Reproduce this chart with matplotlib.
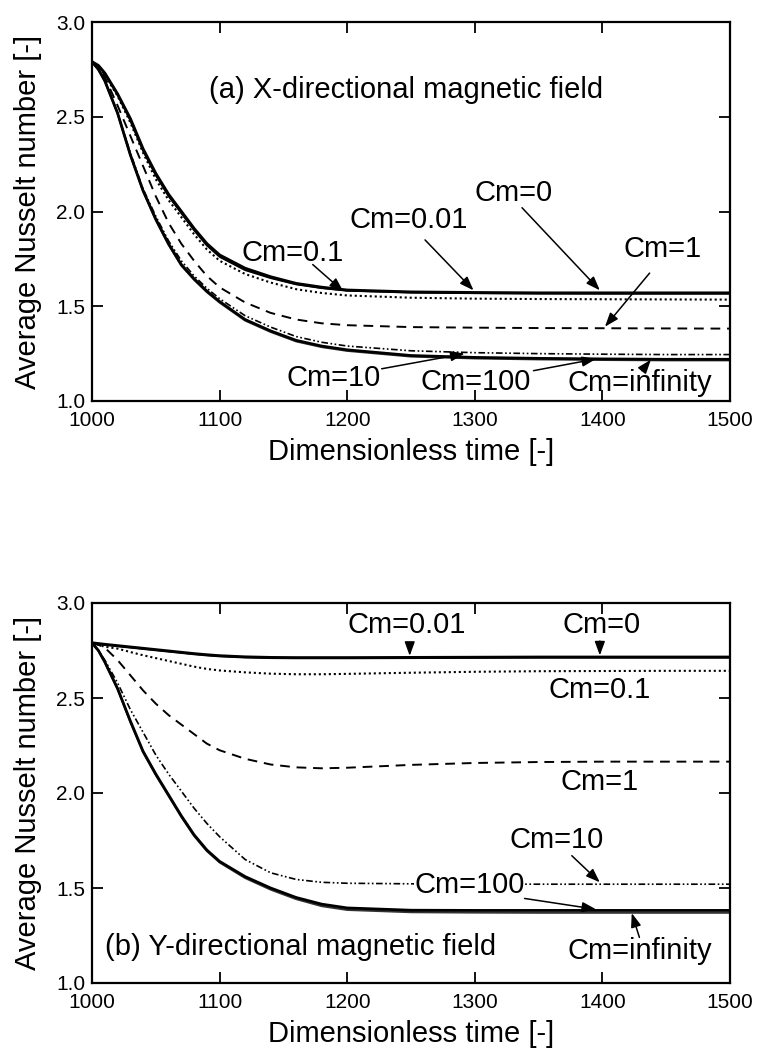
import matplotlib
matplotlib.use("Agg")
import matplotlib.pyplot as plt
from matplotlib import font_manager

# ---------------- data ----------------
t = [1000, 1005, 1010, 1020, 1030, 1040, 1050, 1060, 1070, 1080, 1090, 1100,
     1120, 1140, 1160, 1180, 1200, 1250, 1300, 1350, 1400, 1450, 1500]

# (a) X-directional magnetic field
a_cm0 = [2.79, 2.77, 2.73, 2.62, 2.49, 2.33, 2.20, 2.09, 2.00, 1.91, 1.83, 1.77,
         1.70, 1.655, 1.62, 1.60, 1.585, 1.575, 1.572, 1.570, 1.570, 1.570, 1.570]
a_cm001 = [2.79, 2.77, 2.73, 2.62, 2.48, 2.32, 2.19, 2.08, 1.99, 1.90, 1.82, 1.76,
           1.69, 1.648, 1.615, 1.595, 1.582, 1.572, 1.569, 1.567, 1.566, 1.566, 1.566]
a_cm01 = [2.79, 2.77, 2.72, 2.61, 2.47, 2.31, 2.17, 2.06, 1.97, 1.88, 1.80, 1.74,
          1.67, 1.625, 1.59, 1.57, 1.557, 1.545, 1.540, 1.538, 1.537, 1.536, 1.535]
a_cm1 = [2.79, 2.76, 2.71, 2.56, 2.40, 2.24, 2.08, 1.94, 1.83, 1.74, 1.66, 1.60,
         1.52, 1.465, 1.43, 1.41, 1.40, 1.39, 1.387, 1.385, 1.384, 1.383, 1.382]
a_cm10 = [2.79, 2.75, 2.69, 2.52, 2.31, 2.12, 1.975, 1.845, 1.74, 1.66, 1.595, 1.54,
          1.45, 1.39, 1.34, 1.31, 1.29, 1.265, 1.255, 1.25, 1.247, 1.245, 1.245]
a_cm100 = [2.79, 2.75, 2.69, 2.52, 2.30, 2.11, 1.96, 1.83, 1.72, 1.645, 1.58, 1.525,
           1.43, 1.37, 1.32, 1.29, 1.27, 1.24, 1.23, 1.225, 1.222, 1.22, 1.22]
a_cminf = [2.79, 2.75, 2.69, 2.52, 2.30, 2.11, 1.955, 1.825, 1.715, 1.64, 1.575, 1.52,
           1.425, 1.365, 1.315, 1.285, 1.265, 1.235, 1.225, 1.22, 1.217, 1.215, 1.215]

# (b) Y-directional magnetic field
b_cm0 = [2.79, 2.786, 2.782, 2.775, 2.768, 2.761, 2.754, 2.747, 2.740, 2.733, 2.727, 2.722,
         2.716, 2.713, 2.712, 2.712, 2.712, 2.713, 2.714, 2.715, 2.715, 2.715, 2.715]
b_cm001 = [2.79, 2.786, 2.781, 2.773, 2.766, 2.759, 2.752, 2.745, 2.738, 2.731, 2.725, 2.720,
           2.714, 2.711, 2.710, 2.710, 2.710, 2.711, 2.712, 2.713, 2.713, 2.713, 2.713]
b_cm01 = [2.79, 2.78, 2.77, 2.76, 2.742, 2.725, 2.71, 2.695, 2.68, 2.665, 2.653, 2.645,
          2.635, 2.628, 2.625, 2.625, 2.627, 2.633, 2.638, 2.641, 2.642, 2.643, 2.643]
b_cm1 = [2.79, 2.78, 2.765, 2.70, 2.62, 2.54, 2.47, 2.41, 2.36, 2.31, 2.26, 2.225,
         2.18, 2.15, 2.135, 2.13, 2.133, 2.148, 2.158, 2.163, 2.165, 2.165, 2.165]
b_cm10 = [2.79, 2.75, 2.70, 2.58, 2.44, 2.32, 2.20, 2.10, 2.01, 1.92, 1.84, 1.77,
          1.65, 1.58, 1.545, 1.53, 1.525, 1.522, 1.521, 1.520, 1.520, 1.520, 1.520]
b_cm100 = [2.79, 2.75, 2.69, 2.55, 2.38, 2.22, 2.10, 1.99, 1.88, 1.78, 1.70, 1.64,
           1.56, 1.50, 1.45, 1.415, 1.395, 1.383, 1.382, 1.382, 1.382, 1.382, 1.382]
b_cminf = [2.79, 2.75, 2.69, 2.55, 2.375, 2.215, 2.095, 1.985, 1.875, 1.775, 1.695, 1.635,
           1.553, 1.492, 1.442, 1.405, 1.385, 1.373, 1.371, 1.370, 1.370, 1.370, 1.370]

x_ticks = [1000, 1100, 1200, 1300, 1400, 1500]
y_ticks = [1.0, 1.5, 2.0, 2.5, 3.0]
x_label = "Dimensionless time [-]"
y_label = "Average Nusselt number [-]"

# ---------------- fonts ----------------
def has_font(name):
    try:
        font_manager.findfont(font_manager.FontProperties(family=name),
                              fallback_to_default=False)
        return True
    except Exception:
        return False

main_font = "Liberation Sans" if has_font("Liberation Sans") else "DejaVu Sans"
narrow = has_font("Liberation Sans Narrow")
tick_font = "Liberation Sans Narrow" if narrow else main_font
tick_size = 17 if narrow else 15
plt.rcParams['font.family'] = [main_font, 'DejaVu Sans']

# ---------------- styles ----------------
styles = {
    'cm0': dict(color='k', lw=2.2, ls='-'),
    'cm001': dict(color='k', lw=1.2, ls='-'),
    'cm01': dict(color='k', lw=1.5, ls=(0, (1, 1.4))),
    'cm1': dict(color='k', lw=1.4, ls=(0, (5, 3.5))),
    'cm10': dict(color='k', lw=1.2, ls=(0, (4, 1.5, 1, 1.5, 1, 1.5))),
    'cm100': dict(color='k', lw=2.0, ls='-'),
    'cminf': dict(color='#333333', lw=1.6, ls='-'),
}

fig = plt.figure(figsize=(7.57, 10.49), dpi=100)
ax_a = fig.add_axes([92/757, 1-401/1049, 638/757, 379/1049])
ax_b = fig.add_axes([92/757, 1-983/1049, 638/757, 380/1049])

def setup(ax):
    ax.set_xlim(1000, 1500)
    ax.set_ylim(1.0, 3.0)
    ax.set_xticks(x_ticks)
    ax.set_yticks(y_ticks)
    ax.set_yticklabels([f"{v:.1f}" for v in y_ticks])
    ax.tick_params(direction='in', length=8, width=1.3, top=True, right=True,
                   labelsize=tick_size)
    ax.tick_params(axis='x', pad=7)
    ax.tick_params(axis='y', pad=5)
    for lab in ax.get_xticklabels() + ax.get_yticklabels():
        lab.set_family([tick_font, 'DejaVu Sans'])
    for s in ax.spines.values():
        s.set_linewidth(1.6)
    ax.set_xlabel(x_label, fontsize=21)
    ax.set_ylabel(y_label, fontsize=21)
    ax.yaxis.set_label_coords(-0.100, 0.5)
    ax.xaxis.set_label_coords(0.5, -0.135)
    ax.xaxis.label.set_va('center')
    ax.yaxis.label.set_va('center')

series_a = [('cminf', a_cminf), ('cm100', a_cm100), ('cm10', a_cm10), ('cm1', a_cm1),
            ('cm01', a_cm01), ('cm001', a_cm001), ('cm0', a_cm0)]
series_b = [('cminf', b_cminf), ('cm100', b_cm100), ('cm10', b_cm10), ('cm1', b_cm1),
            ('cm01', b_cm01), ('cm001', b_cm001), ('cm0', b_cm0)]

for key, vals in series_a:
    ax_a.plot(t, vals, **styles[key])
for key, vals in series_b:
    ax_b.plot(t, vals, **styles[key])

setup(ax_a)
setup(ax_b)

fs = 21
arrow = dict(arrowstyle='-|>,head_length=0.6,head_width=0.22', color='k', lw=1.1,
             shrinkA=0, shrinkB=0, mutation_scale=14)

def label(ax, s, pos, tail=None, head=None, bg=False):
    kw = dict(ha='center', va='center', fontsize=fs, zorder=5)
    if bg:
        kw['bbox'] = dict(facecolor='white', edgecolor='none', pad=0.5)
    ax.text(pos[0], pos[1], s, **kw)
    if tail is not None:
        ax.annotate('', xy=head, xytext=tail, arrowprops=arrow, zorder=6)

# panel (a)
ax_a.text(1246, 2.64, "(a) X-directional magnetic field", ha='center', va='center',
          fontsize=fs)
label(ax_a, "Cm=0.1", (1157, 1.78), (1173, 1.72), (1197, 1.578))
label(ax_a, "Cm=0.01", (1248, 1.955), (1261, 1.85), (1299, 1.584))
label(ax_a, "Cm=0", (1330, 2.10), (1337, 2.02), (1398, 1.584))
label(ax_a, "Cm=1", (1447, 1.80), (1437, 1.675), (1402, 1.392))
label(ax_a, "Cm=10", (1189, 1.12), (1227, 1.17), (1292, 1.25))
label(ax_a, "Cm=100", (1301, 1.10), (1346, 1.16), (1395, 1.222))
label(ax_a, "Cm=infinity", (1429, 1.095), (1431, 1.16), (1438, 1.218))

# panel (b)
ax_b.text(1010, 1.19, "(b) Y-directional magnetic field", ha='left', va='center',
          fontsize=fs)
label(ax_b, "Cm=0.01", (1247, 2.885), (1249, 2.79), (1249, 2.722))
label(ax_b, "Cm=0", (1399, 2.885), (1398, 2.80), (1398, 2.724))
label(ax_b, "Cm=0.1", (1398, 2.54))
label(ax_b, "Cm=1", (1398, 2.06))
label(ax_b, "Cm=10", (1364, 1.75), (1376, 1.67), (1398, 1.53))
label(ax_b, "Cm=100", (1296, 1.515), (1339, 1.445), (1395, 1.388), bg=True)
label(ax_b, "Cm=infinity", (1429, 1.17), (1429, 1.24), (1423, 1.368))

fig.savefig("out.png", dpi=100)
